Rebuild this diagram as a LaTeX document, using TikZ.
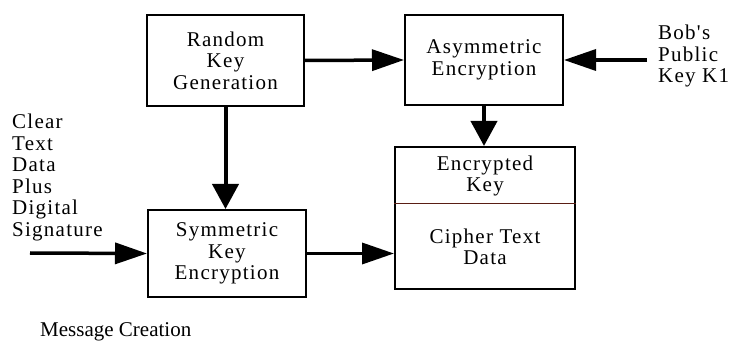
\documentclass[tikz,border=0pt]{standalone}
\usepackage{fontspec}
\setmainfont{Liberation Serif}
\newfontfamily\spaced[LetterSpace=6]{Liberation Serif}
\usetikzlibrary{arrows.meta}
\definecolor{divcol}{RGB}{90,30,20}
\tikzset{
  box/.style={draw=black, line width=2pt, inner sep=0pt, align=center,
    font=\spaced\fontsize{21}{21.5}\selectfont},
  lbl/.style={inner sep=0pt, align=left, font=\spaced\fontsize{21}{21.5}\selectfont},
  ctext/.style={inner sep=0pt, align=center, font=\spaced\fontsize{21}{21.5}\selectfont},
  hflow/.style={line width=3.5pt, -{Triangle[length=32pt,width=21pt]}},
  vflow/.style={line width=4pt, -{Triangle[length=25pt,width=26pt]}},
  divider/.style={draw=divcol, line width=1pt}
}
\begin{document}
\begin{tikzpicture}[x=1pt,y=-1pt]
\useasboundingbox (0,0) rectangle (747,347);
\fill[white] (0,0) rectangle (747,347);
\node[box, minimum width=157pt, minimum height=91pt] (rkg) at (225.5,60.5) {Random\\Key\\Generation};
\node[box, minimum width=158pt, minimum height=90pt] (asym) at (484,60) {Asymmetric\\Encryption};
\node[box, minimum width=158pt, minimum height=87pt] (sym) at (227,253.5) {Symmetric\\Key\\Encryption};
\node[box, minimum width=180pt, minimum height=142pt] (enc) at (485,218) {};
\draw[divider] (enc.west |- 0,204) -- (enc.east |- 0,204);
\node[ctext] (enckey) at (485,176) {Encrypted\\Key};
\node[ctext] (cipher) at (485,247) {Cipher Text\\Data};
\node[lbl, anchor=north west] (bob) at (658,25) {Bob's\\Public\\Key K1};
\node[lbl, anchor=north west] (clear) at (12,114) {Clear\\Text\\Data\\Plus\\Digital\\Signature};
\node[inner sep=0pt, anchor=west, font=\fontsize{21}{21.5}\selectfont] (msg) at (40,332) {Message Creation};
\coordinate (bobstart) at (647,60);
\coordinate (clearstart) at (30,253);
\draw[hflow] (rkg.east) -- (asym.west);
\draw[hflow] (bobstart) -- (asym.east);
\draw[vflow] (rkg.south) -- (rkg.south |- sym.north);
\draw[hflow] (clearstart) -- (sym.west);
\draw[hflow] (sym.east) -- (sym.east -| enc.west);
\draw[vflow] (asym.south) -- (asym.south |- enc.north);
\end{tikzpicture}
\end{document}
